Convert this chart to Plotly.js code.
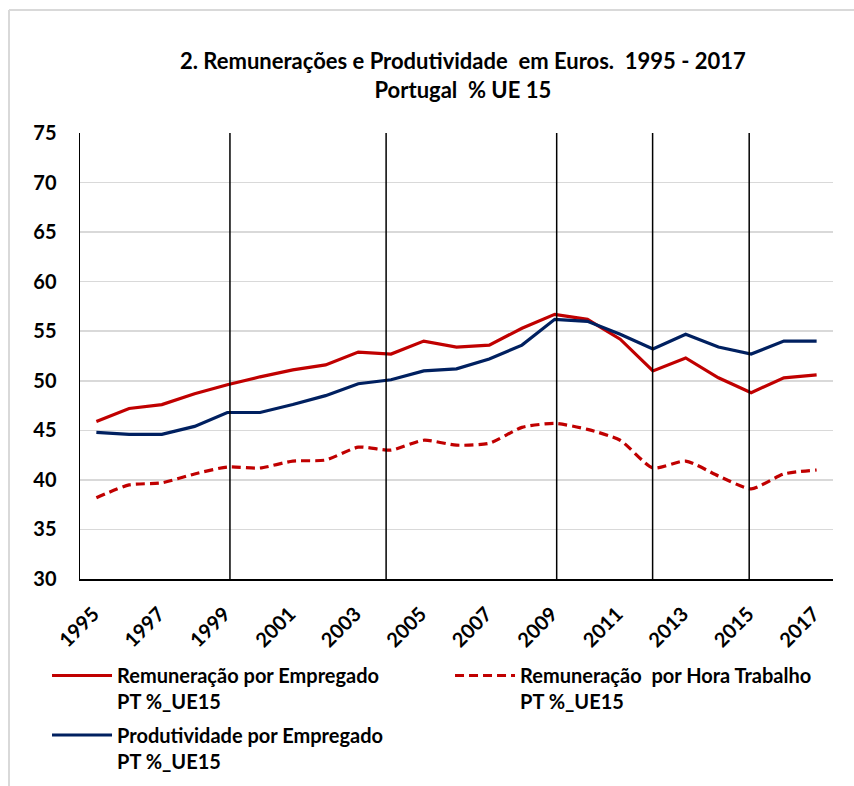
<!DOCTYPE html>
<html>
<head>
<meta charset="utf-8">
<script src="https://cdn.plot.ly/plotly-3.0.1.min.js"></script>
<style>html,body{margin:0;padding:0;background:#fff;}#chart{width:854px;height:786px;}</style>
</head>
<body>
<div id="chart"></div>
<script>
const years = [1995,1996,1997,1998,1999,2000,2001,2002,2003,2004,2005,2006,2007,2008,2009,2010,2011,2012,2013,2014,2015,2016,2017];
const remEmpregado = [45.9,47.2,47.6,48.7,49.6,50.4,51.1,51.6,52.9,52.7,54.0,53.4,53.6,55.3,56.7,56.2,54.2,51.0,52.3,50.3,48.8,50.3,50.6];
const remHora = [38.2,39.5,39.7,40.6,41.3,41.2,41.9,42.0,43.3,43.0,44.0,43.5,43.7,45.3,45.7,45.1,44.0,41.2,41.9,40.4,39.1,40.6,41.0];
const produtividade = [44.8,44.6,44.6,45.4,46.8,46.8,47.6,48.5,49.7,50.1,51.0,51.2,52.2,53.6,56.2,56.0,54.7,53.2,54.7,53.4,52.7,54.0,54.0];
const xTicks = [1995,1997,1999,2001,2003,2005,2007,2009,2011,2013,2015,2017];
const markerYears = [1999.08,2003.85,2009.06,2011.99,2014.94];
const seriesNames = ["Remuneração por Empregado<br>PT %_UE15","Remuneração&nbsp; por Hora Trabalho<br>PT %_UE15","Produtividade por Empregado<br>PT %_UE15"];

const FONT = "Lato, 'Open Sans', sans-serif";
const RED = "#C00000", BLUE = "#002060";

const traces = [
  {x: years, y: remEmpregado, name: seriesNames[0], type: "scatter", mode: "lines",
   line: {color: RED, width: 3.2}, legend: "legend"},
  {x: years, y: remHora, name: seriesNames[1], type: "scatter", mode: "lines",
   line: {color: RED, width: 3.2, dash: "9px,5px", shape: "spline", smoothing: 0.6}, legend: "legend2"},
  {x: years, y: produtividade, name: seriesNames[2], type: "scatter", mode: "lines",
   line: {color: BLUE, width: 3.2}, legend: "legend3"}
];

const shapes = markerYears.map(v => ({type: "line", xref: "x", yref: "y", x0: v, x1: v, y0: 30, y1: 75,
  line: {color: "#000", width: 1.5}}));
shapes.push({type: "line", xref: "paper", yref: "paper", x0: -0.0943, x1: -0.0943, y0: -0.5, y1: 1.2758,
  line: {color: "#d9d9d9", width: 2}});
shapes.push({type: "line", xref: "paper", yref: "paper", x0: -0.0943, x1: 1.05, y0: 1.2758, y1: 1.2758,
  line: {color: "#d9d9d9", width: 2}});

const legFont = {family: FONT, size: 20, color: "#000", weight: 700};
const legBase = {orientation: "h", xanchor: "left", yanchor: "top", yref: "container", valign: "top",
  itemwidth: 60, font: legFont, bgcolor: "rgba(0,0,0,0)"};
const layout = {
  width: 854, height: 786,
  margin: {l: 80, r: 21, t: 133, b: 207, autoexpand: false},
  paper_bgcolor: "#fff", plot_bgcolor: "#fff",
  showlegend: true,
  hovermode: false,
  title: {text: "2. Remunerações e Produtividade&nbsp; em Euros.&nbsp; 1995 - 2017<br>Portugal&nbsp; % UE 15",
    xref: "container", x: 0.542, xanchor: "center", yref: "container", y: 0.912, yanchor: "top",
    font: {family: FONT, size: 22, color: "#000", weight: 700}},
  xaxis: {range: [1994.5, 2017.5], tickvals: xTicks, ticktext: xTicks.map(String), tickangle: -45,
    showgrid: false, zeroline: false, showline: true, linecolor: "#000", linewidth: 1.5, ticks: "",
    ticklabelstandoff: 14, ticklabelshift: -3,
    tickfont: {family: FONT, size: 20, color: "#000", weight: 700}},
  yaxis: {range: [30, 75], dtick: 5, tick0: 30, showgrid: true, gridcolor: "#d9d9d9", gridwidth: 1.5,
    zeroline: false, showline: true, linecolor: "#000", linewidth: 1.5, ticks: "", ticklabelstandoff: 18,
    tickfont: {family: FONT, size: 20, color: "#000", weight: 700}},
  legend: Object.assign({x: -0.0438, y: 0.1654}, legBase),
  legend2: Object.assign({x: 0.4914, y: 0.1654}, legBase),
  legend3: Object.assign({x: -0.0438, y: 0.0897}, legBase),
  shapes: shapes
};

Plotly.newPlot("chart", traces, layout, {displayModeBar: false, staticPlot: true});
</script>
</body>
</html>
